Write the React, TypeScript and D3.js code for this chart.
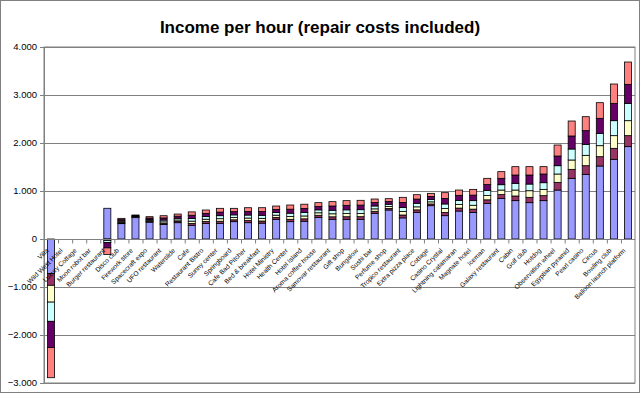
import * as d3 from "d3";

const categories = [
  "Villa", "Wild West Hotel", "Luxury Cottage", "Moon robot bar", "Burger restaurant",
  "Disco club", "Firework store", "Spacecraft expo", "UFO restaurant", "Waterslide",
  "Cafe", "Restaurant Bistro", "Sunny center", "Springboard", "Cafe Bad Pitcher",
  "Bed & breakfast", "Hotel Ministry", "Health Center", "Hotel Island", "Aroma coffee house",
  "Samovar restaurant", "Gift shop", "Bungalow", "Sushi bar", "Perfume shop",
  "Tropico restaurant", "Extra pizza place", "Cottage", "Casino Crystal", "Lightning catamaran",
  "Magnate hotel", "Iceman", "Galaxy restaurant", "Cabin", "Golf club",
  "Hotdog", "Observation wheel", "Egyptian pyramid", "Pearl casino", "Circus",
  "Bowling club", "Balloon launch platform"
];

const blue = [-720, 0, 0, 0, 640, 320, 445, 350, 300, 340, 285, 326, 326, 361, 340, 330, 410, 361, 370, 451, 410, 410, 410, 535, 604, 440, 555, 694, 486, 583, 555, 743, 847, 799, 757, 799, 1020, 1264, 1347, 1521, 1660, 1924];
const maroon = [-245, 0, 0, 0, -15, 15, 8, 16, 26, 25, 39, 39, 44, 39, 44, 45, 39, 49, 50, 43, 52, 54, 55, 42, 33, 60, 52, 36, 67, 61, 67, 73, 78, 97, 111, 104, 160, 187, 180, 194, 229, 229];
const yellow = [-350, 0, 0, 0, -15, 20, 10, 20, 31, 31, 48, 47, 53, 47, 53, 55, 47, 59, 60, 52, 63, 66, 67, 51, 40, 73, 63, 44, 81, 74, 81, 89, 95, 124, 138, 131, 174, 195, 216, 229, 264, 312];
const cyan = [-400, 0, 0, 0, -45, 22, 11, 23, 37, 36, 56, 56, 63, 56, 62, 64, 55, 69, 71, 61, 74, 78, 79, 60, 47, 86, 74, 51, 96, 87, 96, 104, 111, 140, 139, 139, 173, 229, 229, 257, 312, 361];
const purple = [-545, 0, 0, 0, -110, 26, 13, 28, 45, 44, 67, 67, 75, 67, 75, 77, 66, 83, 85, 73, 88, 93, 95, 71, 57, 103, 88, 62, 115, 105, 115, 125, 133, 173, 188, 181, 202, 271, 285, 313, 361, 396];
const salmon = [-630, 0, 0, 0, -140, 27, 13, 28, 46, 44, 70, 69, 78, 69, 78, 81, 70, 87, 89, 77, 91, 98, 100, 74, 59, 106, 91, 64, 120, 110, 120, 130, 139, 174, 174, 153, 229, 312, 291, 326, 403, 465];

const seriesNames = ["blue", "maroon", "yellow", "cyan", "purple", "salmon"];
const seriesColors = ["#9999FF", "#993366", "#FFFFCC", "#CCFFFF", "#660066", "#FF8080"];
const yTicks = [-3000, -2000, -1000, 0, 1000, 2000, 3000, 4000];

const width = 640;
const height = 393;
const plotLeft = 44;
const plotRight = 635;
const plotTop = 47;
const plotBottom = 383;
const font = "'Liberation Sans', Arial, sans-serif";

export default function App() {
  const table = categories.map((c, i) => ({
    name: c,
    blue: blue[i],
    maroon: maroon[i],
    yellow: yellow[i],
    cyan: cyan[i],
    purple: purple[i],
    salmon: salmon[i]
  }));

  const x = d3.scaleBand().domain(categories).range([plotLeft, plotRight]).paddingInner(0.5).paddingOuter(0.25);
  const y = d3.scaleLinear().domain([-3000, 4000]).range([plotBottom, plotTop]);

  const stacked = d3.stack().keys(seriesNames).offset(d3.stackOffsetDiverging)(table);
  const step = x.step();
  const fmt = (v) => (v === 0 ? "0" : d3.format(",")(v).replace(/,/g, "."));
  const y0 = Math.round(y(0)) + 0.5;

  return (
    <svg width={width} height={height} style={{ position: "absolute", left: 0, top: 0 }} fontFamily={font}>
      <rect x={0.5} y={0.5} width={width - 1} height={height - 1} fill="#fff" stroke="#808080" />
      <text x={width / 2} y={33} textAnchor="middle" fontSize={17} fontWeight="bold">
        Income per hour (repair costs included)
      </text>
      <rect x={plotLeft} y={plotTop} width={plotRight - plotLeft} height={plotBottom - plotTop} fill="#fff" stroke="#808080" />
      {yTicks.map((t) => (
        <g key={t}>
          <line x1={plotLeft} x2={plotRight} y1={Math.round(y(t)) + 0.5} y2={Math.round(y(t)) + 0.5} stroke="#808080" />
          <line x1={plotLeft - 4} x2={plotLeft} y1={Math.round(y(t)) + 0.5} y2={Math.round(y(t)) + 0.5} stroke="#808080" />
          <text x={37} y={y(t)} dy="0.35em" textAnchor="end" fontSize={9.5}>
            {fmt(t)}
          </text>
        </g>
      ))}
      <line x1={plotLeft + 0.5} x2={plotLeft + 0.5} y1={plotTop} y2={plotBottom} stroke="#808080" />
      {stacked.map((layer, si) => (
        <g key={layer.key} fill={seriesColors[si]} stroke="#000" strokeWidth={0.8}>
          {layer.map((d, i) =>
            d[1] - d[0] === 0 ? null : (
              <rect
                key={i}
                x={x(categories[i])}
                width={x.bandwidth()}
                y={y(Math.max(d[0], d[1]))}
                height={Math.abs(y(d[0]) - y(d[1]))}
              />
            )
          )}
        </g>
      ))}
      <line x1={plotLeft} x2={plotRight} y1={y0} y2={y0} stroke="#808080" />
      {categories.map((c, i) => (
        <line key={c} x1={plotLeft + step * i + 0.5} x2={plotLeft + step * i + 0.5} y1={y0} y2={y0 + 4} stroke="#808080" />
      ))}
      {categories.map((c) => {
        const cx = x(c) + x.bandwidth() / 2;
        return (
          <text key={c} transform={`translate(${cx - 2},${y(0) + 12}) rotate(-45)`} textAnchor="end" fontSize={6.6}>
            {c}
          </text>
        );
      })}
    </svg>
  );
}
